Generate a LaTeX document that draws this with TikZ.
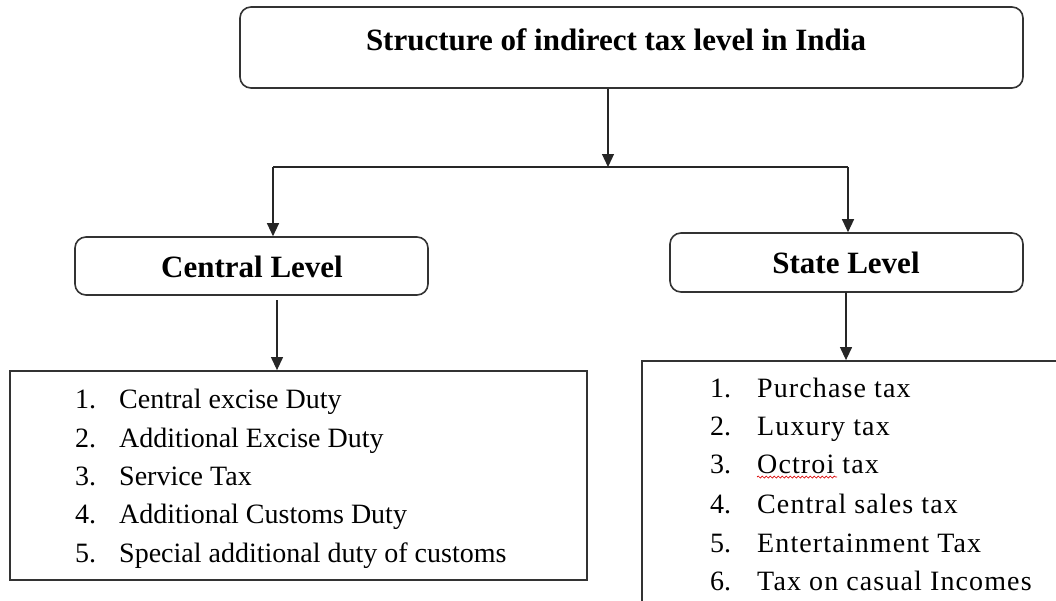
\documentclass[tikz,border=0pt]{standalone}
\usepackage{fontspec}
\setmainfont{Liberation Serif}
\newfontfamily\widefont[LetterSpace=4]{Liberation Serif}
\usetikzlibrary{arrows.meta,decorations.pathmorphing}
\begin{document}
\begin{tikzpicture}[x=1pt,y=-1pt,
  rbox/.style={draw=black!80, line width=1.6pt, rounded corners=11pt, inner sep=0pt},
  listbox/.style={draw=black!80, line width=1.8pt, inner sep=0pt},
  conn/.style={draw=black!85, line width=1.2pt},
  arr/.style={conn, -{Triangle[length=13pt,width=12pt]}},
  head/.style={font=\bfseries\fontsize{31}{36}\selectfont, inner sep=0pt},
  item/.style={font=\fontsize{28}{38}\selectfont, inner sep=0pt, anchor=base west},
  sitem/.style={font=\widefont\fontsize{28}{38}\selectfont, inner sep=0pt, anchor=base west},
  squig/.style={draw=red!85!black, line width=0.7pt, decorate,
    decoration={snake, amplitude=1pt, segment length=4pt}}]
\useasboundingbox (0,0) rectangle (1056,600);
% boxes
\node[rbox, minimum width=783pt, minimum height=81pt] (top) at (631.5,47.5) {};
\node[head] (title) at (616,40) {Structure of indirect tax level in India};
\node[rbox, minimum width=353pt, minimum height=58pt] (central) at (251.5,266) {};
\node[head] (ctext) at (252,267) {Central Level};
\node[rbox, minimum width=353pt, minimum height=59pt] (state) at (846.5,262.5) {};
\node[head] (stext) at (846,263) {State Level};
\node[listbox, minimum width=577pt, minimum height=209pt] (clist) at (298.5,475.5) {};
\begin{scope}
\clip (0,0) rectangle (1056,600);
\node[listbox, minimum width=440pt, minimum height=260pt] (slist) at (862,491) {};
\end{scope}
% junction points
\coordinate (j) at (608,167);
\coordinate (jl) at (273,167);
\coordinate (jr) at (848,167);
\coordinate (cs) at (277,300);
\coordinate (ss) at (846,292);
% connectors
\draw[arr] (top.south -| j) -- (j);
\draw[conn] (jl) -- (jr);
\draw[arr] (jl) -- (central.north -| jl);
\draw[arr] (jr) -- (state.north -| jr);
\draw[arr] (cs) -- (clist.north -| cs);
\draw[arr] (ss) -- (slist.north -| ss);
% central list
\node[item] (c1n) at (75,408) {1.};  \node[item] (c1) at (119,408) {Central excise Duty};
\node[item] (c2n) at (75,447) {2.};  \node[item] (c2) at (119,447) {Additional Excise Duty};
\node[item] (c3n) at (75,485) {3.};  \node[item] (c3) at (119,485) {Service Tax};
\node[item] (c4n) at (75,523) {4.};  \node[item] (c4) at (119,523) {Additional Customs Duty};
\node[item] (c5n) at (75,562) {5.};  \node[item] (c5) at (119,562) {Special additional duty of customs};
% state list
\node[item] (s1n) at (710,397) {1.}; \node[sitem] (s1) at (757,397) {Purchase tax};
\node[item] (s2n) at (710,435) {2.}; \node[sitem] (s2) at (757,435) {Luxury tax};
\node[item] (s3n) at (710,473) {3.}; \node[sitem] (s3) at (757,473) {Octroi tax};
\node[item] (s4n) at (710,513) {4.}; \node[sitem] (s4) at (757,513) {Central sales tax};
\node[item] (s5n) at (710,552) {5.}; \node[sitem] (s5) at (757,552) {Entertainment Tax};
\node[item] (s6n) at (710,590) {6.}; \node[sitem] (s6) at (757,590) {Tax on casual Incomes};
\coordinate (q1) at (757,477);
\coordinate (q2) at (837,477);
\draw[squig] (q1) -- (q2);
\end{tikzpicture}
\end{document}
